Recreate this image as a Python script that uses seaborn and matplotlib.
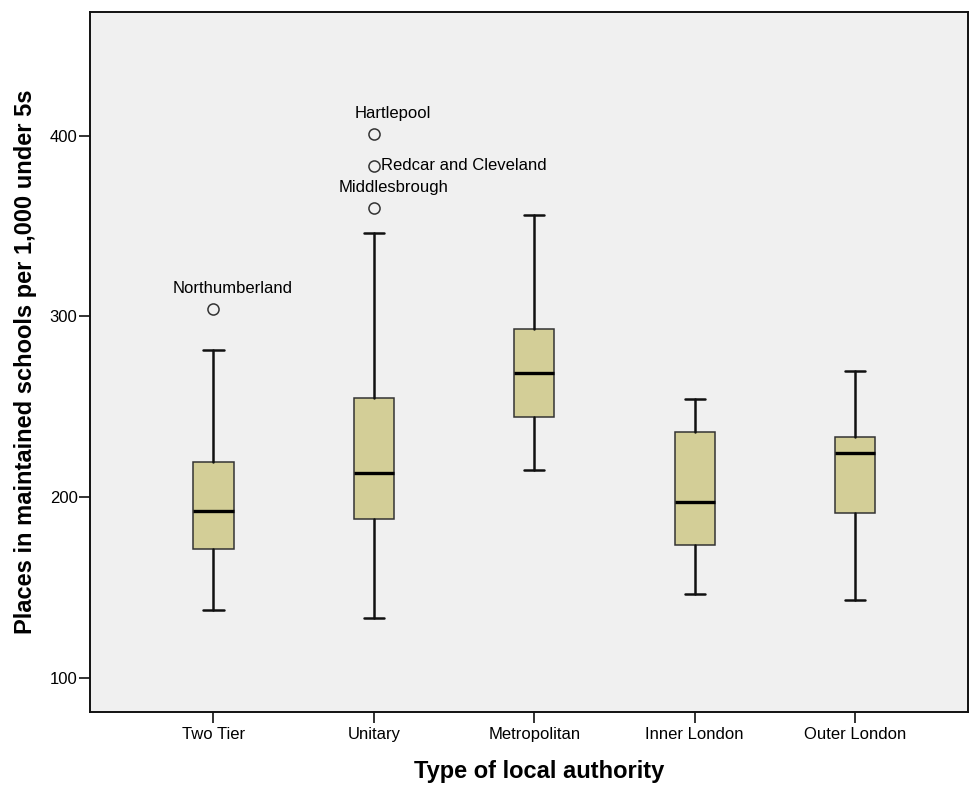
import matplotlib
matplotlib.use("Agg")
import matplotlib.pyplot as plt
import seaborn as sns

# summary values
categories = ["Two Tier", "Unitary", "Metropolitan", "Inner London", "Outer London"]
whisker_low = [137.6, 133.0, 215.0, 146.5, 143.2]
q1 = [171.0, 188.1, 244.6, 173.3, 191.3]
median = [192.2, 213.5, 268.7, 197.2, 224.3]
q3 = [219.6, 254.8, 292.8, 236.3, 233.5]
whisker_high = [281.3, 346.5, 356.3, 254.4, 269.6]

outlier_names = ["Northumberland", "Hartlepool", "Redcar and Cleveland", "Middlesbrough"]
outlier_group = ["Two Tier", "Unitary", "Unitary", "Unitary"]
outlier_values = [304.4, 401.1, 383.5, 360.2]

sns.set_style("ticks", {"axes.facecolor": "#F0F0F0", "axes.edgecolor": "#111111",
                        "text.color": "black", "axes.labelcolor": "black",
                        "xtick.color": "black", "ytick.color": "black"})
plt.rcParams["font.family"] = ["Liberation Sans", "DejaVu Sans"]

stats = []
for i, cat in enumerate(categories):
    fl = [v for g, v in zip(outlier_group, outlier_values) if g == cat]
    stats.append({"label": cat, "whislo": whisker_low[i], "q1": q1[i], "med": median[i],
                  "q3": q3[i], "whishi": whisker_high[i], "fliers": fl})

fig = plt.figure(figsize=(9.71, 7.91), dpi=100)
ax = fig.add_axes([90 / 971, 1 - 712 / 791, 878 / 971, 700 / 791])

ax.bxp(stats, positions=range(len(categories)), widths=0.25, capwidths=0.125,
       patch_artist=True, showfliers=True,
       boxprops=dict(facecolor="#D3CE97", edgecolor="#333333", linewidth=1.1),
       medianprops=dict(color="black", linewidth=2.4),
       whiskerprops=dict(color="#111111", linewidth=1.8),
       capprops=dict(color="#111111", linewidth=1.8),
       flierprops=dict(marker="o", markersize=8, markerfacecolor="none",
                       markeredgecolor="#333333", markeredgewidth=1.1))

for name, g, v in zip(outlier_names, outlier_group, outlier_values):
    x = categories.index(g)
    if name == "Redcar and Cleveland":
        ax.annotate(name, (x, v), xytext=(5.5, 0), textcoords="offset points",
                    ha="left", va="center", fontsize=12, color="black")
    else:
        ax.annotate(name, (x, v), xytext=(14, 14.5), textcoords="offset points",
                    ha="center", va="center", fontsize=12, color="black")

ax.set_xlim(-0.77, 4.705)
ax.set_ylim(81, 468.6)
ax.set_yticks([100, 200, 300, 400])
ax.set_xticks(range(len(categories)))
ax.set_xticklabels(categories)
ax.tick_params(axis="both", length=8, width=1.3, color="#222222", labelsize=12,
               labelcolor="black")
ax.tick_params(axis="y", pad=1)
ax.tick_params(axis="x", pad=3)
for s in ax.spines.values():
    s.set_linewidth(1.4)

ax.set_xlabel("Type of local authority", fontsize=17, fontweight="bold", labelpad=12,
              color="black")
ax.set_ylabel("Places in maintained schools per 1,000 under 5s", fontsize=17,
              fontweight="bold", labelpad=9, color="black")
ax.xaxis.set_label_coords(0.512, -0.068)

fig.savefig("out.png", dpi=100)
